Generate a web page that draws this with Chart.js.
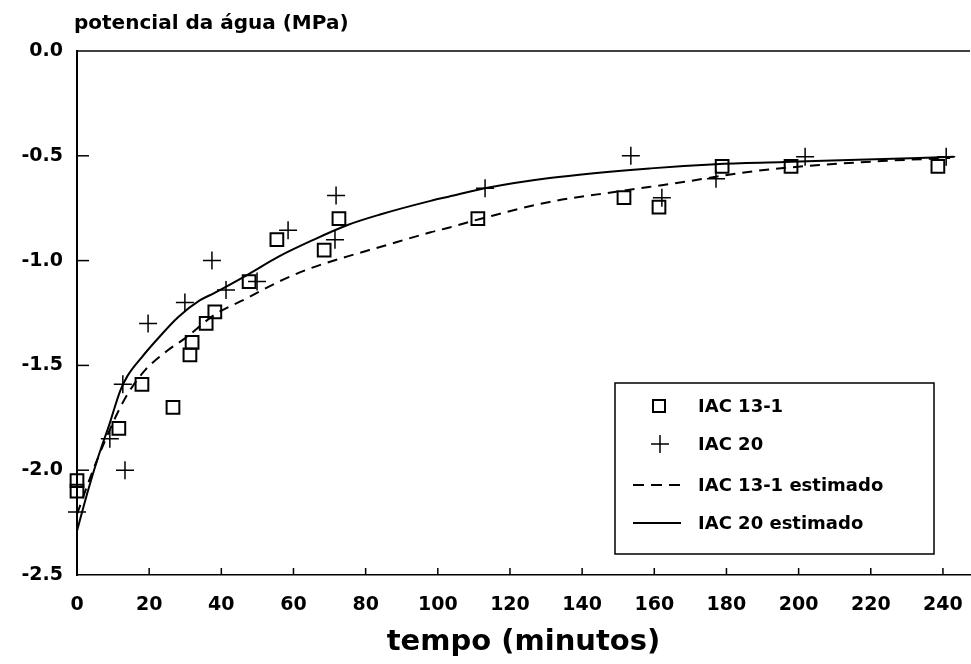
<!DOCTYPE html>
<html>
<head>
<meta charset="utf-8">
<script src="https://cdn.jsdelivr.net/npm/chart.js@4"></script>
<style>
html,body{margin:0;padding:0;background:#fff;}
#wrap{width:971px;height:664px;}
</style>
</head>
<body>
<div id="wrap"><canvas id="c" width="971" height="664"></canvas></div>
<script>
// ---- data ----
const xTicks = [0, 20, 40, 60, 80, 100, 120, 140, 160, 180, 200, 220, 240];
const yTicks = [0, -0.5, -1.0, -1.5, -2.0, -2.5];

const iac131Time  = [0, 0, 11.6, 18.0, 26.6, 31.3, 31.9, 35.8, 38.2, 47.7, 55.4, 68.5, 72.6, 111.1, 151.6, 161.3, 178.8, 197.9, 238.6];
const iac131Water = [-2.05, -2.10, -1.80, -1.59, -1.70, -1.45, -1.39, -1.30, -1.245, -1.10, -0.90, -0.95, -0.80, -0.80, -0.70, -0.745, -0.55, -0.55, -0.55];

const iac20Time  = [0, 9.1, 12.7, 13.3, 19.7, 29.9, 37.4, 41.3, 49.9, 58.5, 71.5, 71.8, 113.1, 153.5, 162.1, 177.1, 201.8, 240.9];
const iac20Water = [-2.20, -1.85, -1.59, -2.00, -1.30, -1.20, -1.00, -1.14, -1.10, -0.855, -0.90, -0.69, -0.655, -0.50, -0.70, -0.61, -0.505, -0.505];

const iac131EstTime  = [0, 4, 8, 12, 15, 19, 25, 30, 38, 47, 56, 65, 75, 84, 98, 103, 112, 131, 150, 168, 186, 205, 223, 242];
const iac131EstWater = [-2.21, -2.02, -1.85, -1.70, -1.61, -1.52, -1.43, -1.37, -1.26, -1.18, -1.10, -1.035, -0.98, -0.935, -0.865, -0.843, -0.80, -0.72, -0.67, -0.625, -0.577, -0.545, -0.525, -0.51];

const iac20EstTime  = [0, 3, 6, 9, 12, 14, 18, 22, 28, 34, 38, 47, 56, 65, 75, 84, 98, 103, 113, 131, 159, 177, 196, 214, 243];
const iac20EstWater = [-2.29, -2.10, -1.93, -1.78, -1.62, -1.55, -1.46, -1.38, -1.27, -1.19, -1.155, -1.07, -0.98, -0.905, -0.83, -0.78, -0.715, -0.695, -0.655, -0.606, -0.56, -0.54, -0.53, -0.52, -0.505];

const seriesNames = ['IAC 13-1', 'IAC 20', 'IAC 13-1 estimado', 'IAC 20 estimado'];
const yTitle = 'potencial da água (MPa)';
const xTitle = 'tempo (minutos)';

// ---- build ----
const pts = (xs, ys) => xs.map((x, i) => ({x: x, y: ys[i]}));
const FONT = 'DejaVu Sans';

const extras = {
  id: 'extras',
  afterDraw(chart) {
    const ctx = chart.ctx;
    const a = chart.chartArea;
    const xs = chart.scales.x, ys = chart.scales.y;
    ctx.save();
    ctx.strokeStyle = '#000';
    ctx.fillStyle = '#000';
    // top border
    ctx.lineWidth = 1.5;
    ctx.beginPath();
    ctx.moveTo(a.left, a.top);
    ctx.lineTo(a.right, a.top);
    ctx.stroke();
    // inward ticks
    ctx.lineWidth = 1.5;
    xTicks.forEach(v => {
      if (v === 0) return;
      const px = xs.getPixelForValue(v);
      ctx.beginPath(); ctx.moveTo(px, a.bottom); ctx.lineTo(px, a.bottom - 7); ctx.stroke();
    });
    yTicks.forEach(v => {
      if (v === 0 || v === -2.5) return;
      const py = ys.getPixelForValue(v);
      ctx.beginPath(); ctx.moveTo(a.left, py); ctx.lineTo(a.left + 12, py); ctx.stroke();
    });
    // y title
    ctx.font = 'bold 20px "' + FONT + '"';
    ctx.textAlign = 'left';
    ctx.textBaseline = 'middle';
    ctx.fillText(yTitle, 74, 24);
    // legend box
    const bx = 615, by = 383, bw = 319, bh = 171;
    ctx.lineWidth = 1.5;
    ctx.strokeRect(bx, by, bw, bh);
    const rows = [406, 444, 485, 523];
    ctx.font = 'bold 18px "' + FONT + '"';
    seriesNames.forEach((name, i) => ctx.fillText(name, 698, rows[i] + 1));
    // square
    ctx.lineWidth = 2;
    ctx.strokeRect(653, rows[0] - 6, 12, 12);
    // plus
    ctx.lineWidth = 1.5;
    ctx.beginPath();
    ctx.moveTo(651, rows[1]); ctx.lineTo(669, rows[1]);
    ctx.moveTo(660, rows[1] - 9); ctx.lineTo(660, rows[1] + 9);
    ctx.stroke();
    // dashed
    ctx.lineWidth = 2;
    ctx.setLineDash([11, 7]);
    ctx.beginPath(); ctx.moveTo(633, rows[2]); ctx.lineTo(681, rows[2]); ctx.stroke();
    ctx.setLineDash([]);
    ctx.beginPath(); ctx.moveTo(633, rows[3]); ctx.lineTo(681, rows[3]); ctx.stroke();
    ctx.restore();
  }
};

new Chart(document.getElementById('c'), {
  type: 'scatter',
  data: {
    datasets: [
      {
        label: seriesNames[3], type: 'line', data: pts(iac20EstTime, iac20EstWater),
        borderColor: '#000', borderWidth: 2, pointRadius: 0, fill: false,
        cubicInterpolationMode: 'monotone', clip: false
      },
      {
        label: seriesNames[2], type: 'line', data: pts(iac131EstTime, iac131EstWater),
        borderColor: '#000', borderWidth: 2, borderDash: [10, 7], pointRadius: 0, fill: false,
        cubicInterpolationMode: 'monotone', clip: false
      },
      {
        label: seriesNames[0], data: pts(iac131Time, iac131Water),
        pointStyle: 'rect', pointRadius: 9, borderColor: '#000', backgroundColor: 'rgba(0,0,0,0)',
        borderWidth: 2, clip: false
      },
      {
        label: seriesNames[1], data: pts(iac20Time, iac20Water),
        pointStyle: 'cross', pointRadius: 9, borderColor: '#000', backgroundColor: '#000',
        borderWidth: 1.5, clip: false
      }
    ]
  },
  options: {
    responsive: false,
    animation: false,
    devicePixelRatio: 1,
    layout: {autoPadding: false, padding: {top: 51, right: 1, bottom: 0, left: 0}},
    plugins: {legend: {display: false}, tooltip: {enabled: false}, title: {display: false}},
    scales: {
      x: {
        type: 'linear', min: 0, max: 247.5,
        afterBuildTicks: s => { s.ticks = xTicks.map(v => ({value: v})); },
        afterFit: s => { s.height = 89; },
        grid: {display: true, drawOnChartArea: false, drawTicks: true, tickLength: 19, tickColor: 'rgba(0,0,0,0)'},
        border: {display: true, color: '#000', width: 1.5},
        ticks: {
          padding: 0, color: '#000', maxRotation: 0, autoSkip: false,
          font: {family: FONT, size: 19, weight: 'bold'}
        },
        title: {
          display: true, text: xTitle, color: '#000',
          font: {family: FONT, size: 29, weight: 'bold'},
          padding: {top: 0, bottom: 4}
        }
      },
      y: {
        type: 'linear', min: -2.5, max: 0,
        afterBuildTicks: s => { s.ticks = yTicks.map(v => ({value: v})); },
        afterFit: s => { s.width = 77; },
        grid: {display: false, drawTicks: false},
        border: {display: true, color: '#000', width: 2},
        ticks: {
          padding: 14, color: '#000', autoSkip: false,
          font: {family: FONT, size: 19, weight: 'bold'},
          callback: v => Number(v).toFixed(1)
        }
      }
    }
  },
  plugins: [extras]
});
</script>
</body>
</html>
